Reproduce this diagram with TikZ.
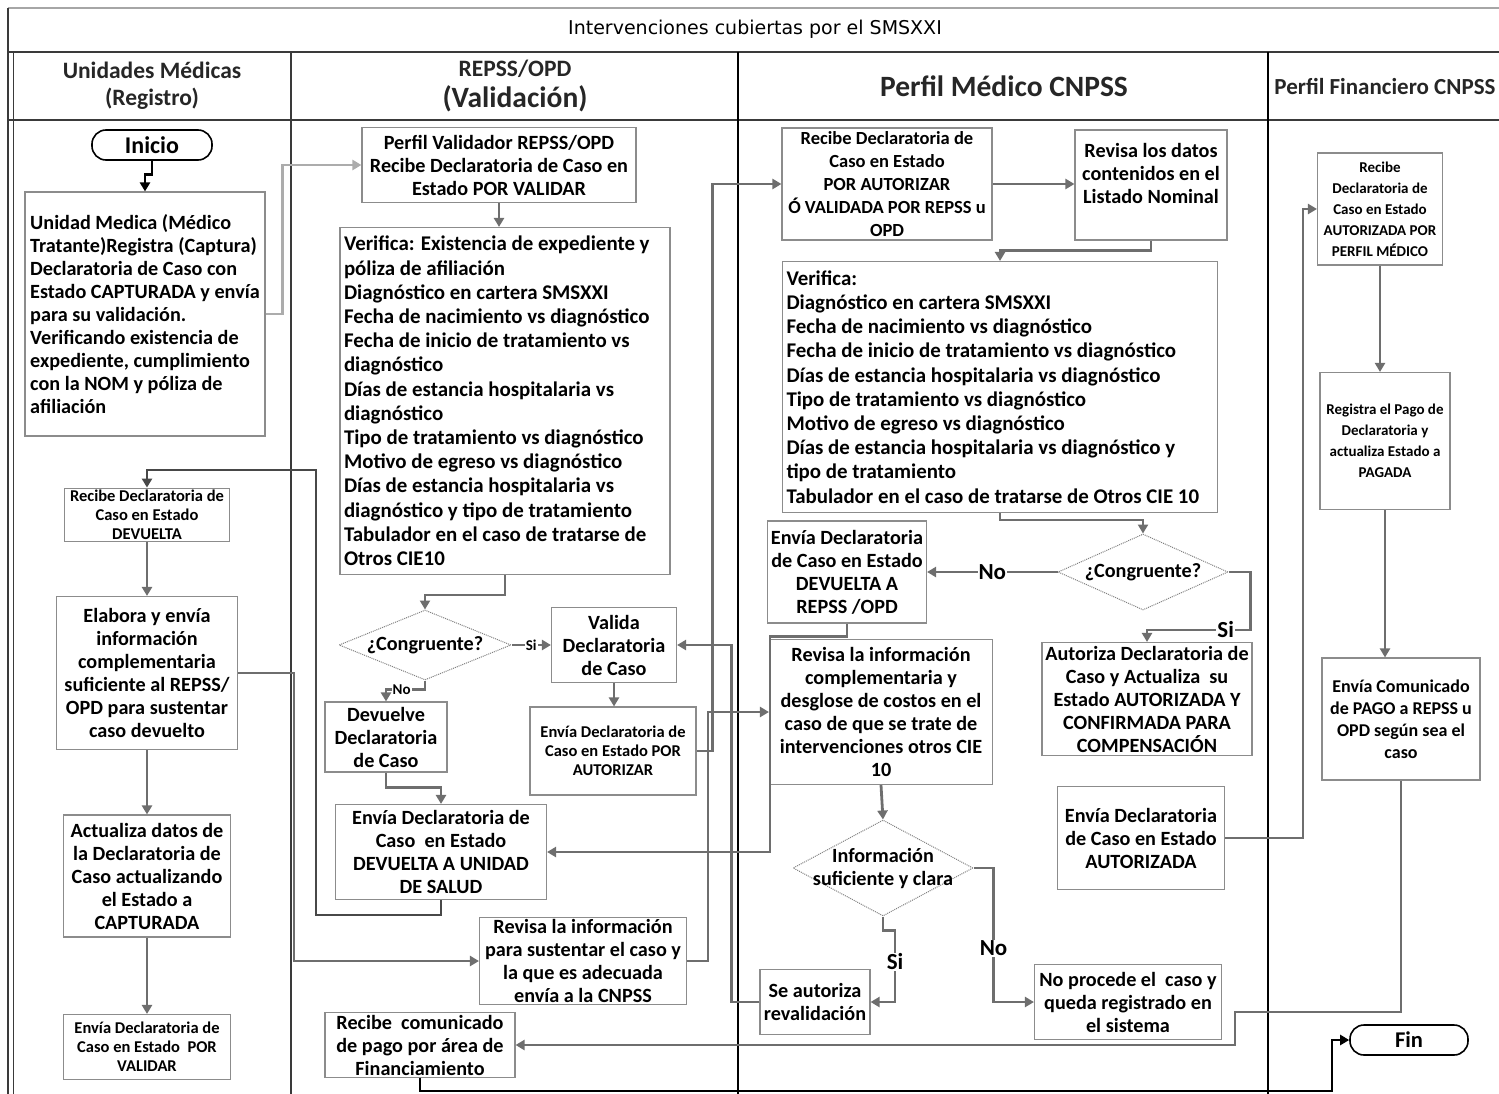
\documentclass[tikz,border=0pt]{standalone}
\usepackage{fontspec}
\setmainfont{Carlito}
\newfontfamily\titlefont{DejaVu Sans}
\usetikzlibrary{arrows.meta}
\usetikzlibrary{shapes.geometric}

\definecolor{boxgray}{HTML}{8C8C8C}
\definecolor{flowgray}{HTML}{6E6E6E}
\definecolor{darkflow}{HTML}{484848}
\definecolor{lanegray}{HTML}{3A3A3A}

\begin{document}
\begin{tikzpicture}[x=1pt,y=-1pt,>={Triangle[length=9pt,width=10pt]},
        box/.style={draw=boxgray, line width=1.1pt, fill=white, align=center, inner sep=2pt, font=\fontsize{20.2}{23}\selectfont\bfseries},
        smallbox/.style={box, font=\fontsize{16.5}{19}\selectfont\bfseries},
        midbox/.style={box, font=\fontsize{15}{21}\selectfont\bfseries},
        listbox/.style={box, align=flush left, font=\fontsize{20.9}{24.2}\selectfont\bfseries},
        dec/.style={diamond, draw=gray, densely dotted, line width=1pt, fill=white, inner xsep=-20pt, inner ysep=-8pt, align=center, font=\fontsize{20.2}{23}\selectfont\bfseries},
        term/.style={draw=black, line width=1.6pt, rounded corners=14pt, fill=white, font=\fontsize{24}{26}\selectfont\bfseries},
        sz/.style 2 args={minimum width=#1pt, minimum height=#2pt},
        flow/.style={->, draw=flowgray, line width=2.8pt},
        lbl/.style={fill=white, inner sep=1pt, text=black, font=\fontsize{23}{24}\selectfont\bfseries},
        slbl/.style={lbl, font=\fontsize{15}{16}\selectfont\bfseries},
        lane/.style={draw=lanegray, line width=1.6pt},
        head/.style={text=black!85, align=center, font=\fontsize{23.5}{27}\selectfont\bfseries}]

        \useasboundingbox (0,0) rectangle (1499,1094);

        % lanes
        \draw[lane, draw=gray!70] (8,8) -- (1499,8);
        \draw[lane] (8,52) -- (1499,52);
        \draw[lane] (8,120) -- (1499,120);
        \draw[lane] (8,8) -- (8,1094);
        \draw[lane, line width=1pt] (13,52) -- (13,1094);
        \draw[lane] (291,52) -- (291,1094);
        \draw[lane, draw=black] (738,52) -- (738,1094);
        \draw[lane, draw=black] (1268,52) -- (1268,1094);

        \node[font=\titlefont\fontsize{19}{22}\selectfont] (title) at (755,29) {Intervenciones cubiertas por el SMSXXI};
        \node[head] (hum) at (152,86) {Unidades Médicas\\(Registro)};
        \node[head, font=\fontsize{23.5}{26}\selectfont\bfseries] (hrep) at (515,69) {REPSS/OPD};
        \node[head, font=\fontsize{29.5}{32}\selectfont\bfseries] (hval) at (515,99) {(Validación)};
        \node[head, font=\fontsize{29.5}{32}\selectfont\bfseries] (hmed) at (1004,86) {Perfil Médico CNPSS};
        \node[head, font=\fontsize{23}{26}\selectfont\bfseries] (hfin) at (1385,86) {Perfil Financiero CNPSS};

        % Unidades Medicas
        \node[term, sz={120}{30}] (ini) at (152,145) {Inicio};
        \node[listbox, font=\fontsize{20.2}{23}\selectfont\bfseries, sz={240}{244}] (um) at (145,314) {Unidad Medica (Médico\\Tratante)Registra (Captura)\\Declaratoria de Caso con\\Estado CAPTURADA y envía\\para su validación.\\Verificando existencia de\\expediente, cumplimiento\\con la NOM y póliza de\\afiliación};
        \node[smallbox, sz={165}{53}] (recdev) at (147,515) {Recibe Declaratoria de\\Caso en Estado\\DEVUELTA};
        \node[box, sz={181}{153}] (elab) at (147,673) {Elabora y envía\\información\\complementaria\\suficiente al REPSS/\\OPD para sustentar\\caso devuelto};
        \node[box, sz={167}{122}] (act) at (147,876) {Actualiza datos de\\la Declaratoria de\\Caso actualizando\\el Estado a\\CAPTURADA};
        \node[smallbox, sz={167}{65}] (envval) at (147,1047) {Envía Declaratoria de\\Caso en Estado\ \ POR\\VALIDAR};

        % REPSS/OPD
        \node[box, sz={274}{75}] (pval) at (499,165) {Perfil Validador REPSS/OPD\\Recibe Declaratoria de Caso en\\Estado POR VALIDAR};
        \node[listbox, text width=322pt, sz={330}{347}] (ver1) at (505,401) {Verifica: Existencia de expediente y\\póliza de afiliación\\Diagnóstico en cartera SMSXXI\\Fecha de nacimiento vs diagnóstico\\Fecha de inicio de tratamiento vs\\diagnóstico\\Días de estancia hospitalaria vs\\diagnóstico\\Tipo de tratamiento vs diagnóstico\\Motivo de egreso vs diagnóstico\\Días de estancia hospitalaria vs\\diagnóstico y tipo de tratamiento\\Tabulador en el caso de tratarse de\\Otros CIE10};
        \node[dec, shape aspect=2.46, sz={172}{70}] (cong1) at (425,645) {¿Congruente?};
        \node[box, sz={125}{75}] (valida) at (614,645) {Valida\\Declaratoria\\de Caso};
        \node[box, sz={122}{70}] (devu) at (386,737) {Devuelve\\Declaratoria\\de Caso};
        \node[smallbox, sz={166}{88}] (envaut) at (613,751) {Envía Declaratoria de\\Caso en Estado POR\\AUTORIZAR};
        \node[box, sz={211}{95}] (envdus) at (441,852) {Envía Declaratoria de\\Caso\ \ en Estado\\DEVUELTA A UNIDAD\\DE SALUD};
        \node[box, sz={207}{87}] (revsus) at (583,961) {Revisa la información\\para sustentar el caso y\\la que es adecuada\\envía a la CNPSS};
        \node[box, sz={190}{60}] (reccom) at (420,1045) {Recibe\ \ comunicado\\de pago por área de\\Financiamiento};

        % Perfil Medico CNPSS
        \node[box, sz={210}{112}, font=\fontsize{18.5}{23}\selectfont\bfseries] (recaut) at (887,184) {Recibe Declaratoria de\\Caso en Estado\\POR AUTORIZAR\\Ó VALIDADA POR REPSS u\\OPD};
        \node[box, sz={152}{110}] (revdat) at (1151,185) {Revisa los datos\\contenidos en el\\Listado Nominal\\~};
        \node[listbox, text width=427pt, sz={435}{251}] (ver2) at (1000,387) {Verifica:\\Diagnóstico en cartera SMSXXI\\Fecha de nacimiento vs diagnóstico\\Fecha de inicio de tratamiento vs diagnóstico\\Días de estancia hospitalaria vs diagnóstico\\Tipo de tratamiento vs diagnóstico\\Motivo de egreso vs diagnóstico\\Días de estancia hospitalaria vs diagnóstico y\\tipo de tratamiento\\Tabulador en el caso de tratarse de Otros CIE 10};
        \node[dec, shape aspect=2.24, sz={170}{76}] (cong2) at (1143,572) {¿Congruente?};
        \node[box, sz={159}{102}] (envdrep) at (847,572) {Envía Declaratoria\\de Caso en Estado\\DEVUELTA A\\REPSS /OPD};
        \node[box, sz={210}{113}] (autz) at (1147,699) {Autoriza Declaratoria de\\Caso y Actualiza\ \ su\\Estado AUTORIZADA Y\\CONFIRMADA PARA\\COMPENSACIÓN};
        \node[box, sz={223}{145}] (revcom) at (881,712) {Revisa la información\\complementaria y\\desglose de costos en el\\caso de que se trate de\\intervenciones otros CIE\\10};
        \node[box, sz={167}{103}] (envautz) at (1141,838) {Envía Declaratoria\\de Caso en Estado\\AUTORIZADA};
        \node[dec, shape aspect=1.88, sz={180}{96}] (info) at (883,868) {Información\\suficiente y clara};
        \node[box, sz={110}{65}] (seaut) at (815,1002) {Se autoriza\\revalidación};
        \node[box, sz={187}{75}] (noproc) at (1128,1002) {No procede el\ \ caso y\\queda registrado en\\el sistema};

        % Perfil Financiero CNPSS
        \node[midbox, sz={125}{112}] (recfin) at (1380,209) {Recibe\\Declaratoria de\\Caso en Estado\\AUTORIZADA POR\\PERFIL MÉDICO};
        \node[midbox, sz={130}{137}] (regpag) at (1385,441) {Registra el Pago de\\Declaratoria y\\actualiza Estado a\\PAGADA};
        \node[midbox, sz={158}{122}, font=\fontsize{18}{22}\selectfont\bfseries] (envcom) at (1401,719) {Envía Comunicado\\de PAGO a REPSS u\\OPD según sea el\\caso};
        \node[term, sz={118}{30}, font=\fontsize{22.5}{24}\selectfont\bfseries] (fin) at (1409,1040) {Fin};

        % flows
        \draw[flow, draw=black] (ini.south) -- ++(0,14) -| (um.north);
        \draw[flow, draw=gray!65] (um.east) -- ++(17,0) |- (pval.west);
        \draw[flow] (pval.south) -- (pval.south |- ver1.north);
        \draw[flow] (ver1.south) -- ++(0,20) -| (cong1.north);
        \draw[flow] (cong1.east) -- node[slbl]{Si} (valida.west);
        \draw[flow] (cong1.south) -- ++(0,9) -| node[slbl, pos=0.3]{No} (devu.north);
        \draw[flow] (valida.south) -- (valida.south |- envaut.north);
        \draw[flow] (devu.south) -- ++(0,15) -| (envdus.north);
        \draw[flow, draw=darkflow] (envdus.south) |- (316,915) -- (316,470) -| (recdev.north);
        \draw[flow] (recdev.south) -- (elab.north);
        \draw[flow] (elab.south) -- (act.north);
        \draw[flow] (act.south) -- (envval.north);
        \draw[flow] (elab.east) -- ++(56,0) |- (revsus.west);
        \draw[flow] (envaut.east) -- ++(16,0) |- (recaut.west);
        \draw[flow] (revsus.east) -- ++(21,0) |- (revcom.west);
        \draw[flow] (recaut.east) -- (revdat.west |- recaut.east);
        \draw[flow] (revdat.south) -- ++(0,10) -| (ver2.north);
        \draw[flow] (ver2.south) -- ++(0,7) -| (cong2.north);
        \draw[flow] (cong2.west) -- node[lbl]{No} (envdrep.east);
        \draw[flow] (cong2.east) -- ++(22,0) -- ++(0,58) -| node[lbl, pos=0.12]{Si} (autz.north);
        \draw[flow] (envdrep.south) -- ++(0,13) -| (770,852) -- (envdus.east);
        \draw[flow] (revcom.south) -- (info.north);
        \draw[flow] (info.south) -- ++(0,14) -- ++(12,0) |- node[lbl, pos=0.22]{Si} (seaut.east);
        \draw[flow] (info.east) -- ++(20,0) |- node[lbl, pos=0.3]{No} (noproc.west);
        \draw[flow] (seaut.west) -- ++(-28,0) |- (valida.east);
        \draw[flow] (envautz.east) -- ++(78,0) |- (recfin.west);
        \draw[flow] (recfin.south) -- (recfin.south |- regpag.north);
        \draw[flow] (regpag.south) -- (regpag.south |- envcom.north);
        \draw[flow] (envcom.south) |- (1235,1012) |- (reccom.east);
        \draw[flow, draw=black] (reccom.south) |- (1332,1091) |- (fin.west);

    \end{tikzpicture}
\end{document}
